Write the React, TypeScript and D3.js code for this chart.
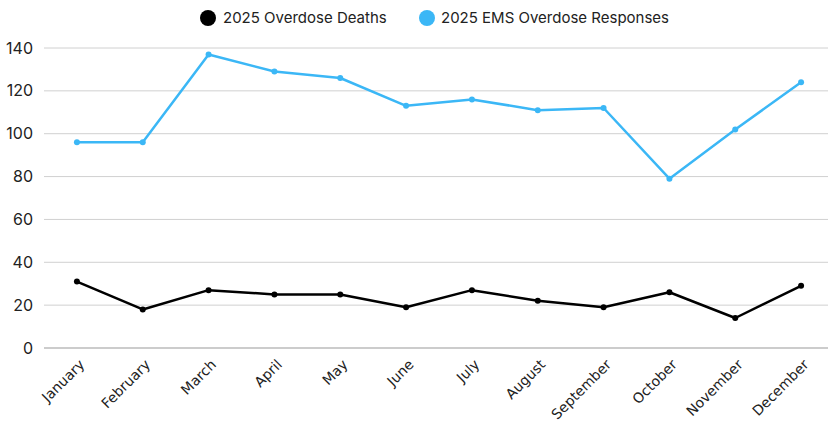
import React from "react";
import * as d3 from "d3";

const months = [
  "January", "February", "March", "April", "May", "June",
  "July", "August", "September", "October", "November", "December",
];
const overdoseDeaths = [31, 18, 27, 25, 25, 19, 27, 22, 19, 26, 14, 29];
const emsResponses = [96, 96, 137, 129, 126, 113, 116, 111, 112, 79, 102, 124];
const yTicks = [0, 20, 40, 60, 80, 100, 120, 140];

const W = 828;
const H = 421;
const margin = { left: 44, right: -6, top: 48, bottom: 73 };

const series = [
  { name: "2025 Overdose Deaths", values: overdoseDeaths, color: "#000000" },
  { name: "2025 EMS Overdose Responses", values: emsResponses, color: "#3BB7F6" },
];

export default function App() {
  const x = d3
    .scalePoint<string>()
    .domain(months)
    .range([margin.left, W - margin.right])
    .padding(0.5);
  const y = d3
    .scaleLinear()
    .domain([0, 140])
    .range([H - margin.bottom, margin.top]);

  const line = d3
    .line<number>()
    .x((_, i) => x(months[i]) as number)
    .y((d) => y(d));

  const legendItems = [
    { cx: 208, tx: 223 },
    { cx: 427, tx: 441 },
  ];

  return (
    <svg
      width={W}
      height={H}
      style={{ position: "absolute", left: 0, top: 0, background: "#fff" }}
    >
      {/* grid */}
      {yTicks.map((t) => (
        <g key={t}>
          <line
            x1={margin.left}
            x2={W}
            y1={y(t)}
            y2={y(t)}
            stroke={t === 0 ? "#9a9a9a" : "#d0d0d0"}
            strokeWidth={t === 0 ? 1.2 : 1}
          />
          <text
            x={33}
            y={y(t)}
            dy="0.35em"
            textAnchor="end"
            fontFamily="Inter, sans-serif"
            fontSize={16}
            fill="#222"
          >
            {t}
          </text>
        </g>
      ))}

      {/* month labels */}
      {months.map((m) => (
        <text
          key={m}
          transform={`translate(${(x(m) as number) + 5},${y(0) + 14}) rotate(-45)`}
          textAnchor="end"
          dy="0.35em"
          fontFamily="'DejaVu Sans', Verdana, sans-serif"
          fontSize={14}
          fill="#222"
        >
          {m}
        </text>
      ))}

      {/* series */}
      {series.map((s) => (
        <g key={s.name}>
          <path
            d={line(s.values) || ""}
            fill="none"
            stroke={s.color}
            strokeWidth={2.5}
            strokeLinejoin="round"
          />
          {s.values.map((v, i) => (
            <circle key={i} cx={x(months[i])} cy={y(v)} r={3} fill={s.color} />
          ))}
        </g>
      ))}

      {/* legend */}
      {series.map((s, i) => (
        <g key={s.name}>
          <circle cx={legendItems[i].cx} cy={18} r={8} fill={s.color} />
          <text
            x={legendItems[i].tx}
            y={18}
            dy="0.35em"
            fontFamily="Inter, sans-serif"
            fontSize={15}
            fill="#222"
          >
            {s.name}
          </text>
        </g>
      ))}
    </svg>
  );
}
